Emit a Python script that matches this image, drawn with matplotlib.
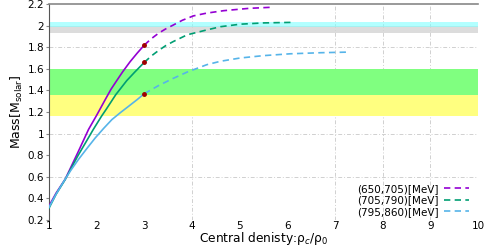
import numpy as np
import matplotlib.pyplot as plt
from matplotlib.ticker import FuncFormatter

# curves: solid part up to rho_c = 3, dashed beyond
x_a = [1.0, 1.15, 1.34, 1.6, 1.83, 2.0, 2.18, 2.3, 2.42, 2.55, 2.7, 2.85, 3.0]
y_a = [0.33, 0.45, 0.578, 0.82, 1.039, 1.17, 1.315, 1.41, 1.49, 1.575, 1.665, 1.745, 1.82]
xd_a = [3.0, 3.15, 3.3, 3.45, 3.61, 3.8, 4.03, 4.3, 4.66, 5.2, 5.68]
yd_a = [1.82, 1.88, 1.93, 1.97, 2.006, 2.05, 2.09, 2.115, 2.138, 2.16, 2.17]

x_b = [1.0, 1.15, 1.34, 1.6, 1.93, 2.1, 2.2, 2.4, 2.63, 2.8, 3.0]
y_b = [0.31, 0.44, 0.575, 0.79, 1.039, 1.16, 1.225, 1.36, 1.49, 1.57, 1.66]
xd_b = [3.0, 3.15, 3.3, 3.45, 3.61, 3.9, 4.31, 4.6, 5.01, 5.5, 6.1]
yd_b = [1.66, 1.72, 1.77, 1.815, 1.853, 1.915, 1.96, 1.99, 2.013, 2.025, 2.03]

x_c = [1.0, 1.15, 1.3, 1.45, 1.62, 1.8, 1.97, 2.15, 2.32, 2.5, 2.67, 2.85, 3.0]
y_c = [0.317, 0.44, 0.55, 0.655, 0.762, 0.865, 0.96, 1.05, 1.13, 1.195, 1.253, 1.315, 1.37]
xd_c = [3.0, 3.3, 3.58, 3.9, 4.31, 4.6, 5.01, 5.5, 6.06, 6.7, 7.32]
yd_c = [1.37, 1.445, 1.506, 1.57, 1.638, 1.67, 1.70, 1.722, 1.739, 1.749, 1.755]

labels = ["(650,705)[MeV]", "(705,790)[MeV]", "(795,860)[MeV]"]
colors = ["#9400d3", "#009e73", "#56b4e9"]

# observational bands
band_gray = (1.93, 2.00)
band_cyan = (1.99, 2.03)
band_green = (1.36, 1.60)
band_yellow = (1.16, 1.36)

fig = plt.figure(figsize=(4.9, 2.46), dpi=100)
ax = fig.add_axes([0.1, 0.1057, 0.8755, 0.878])
ax.set_xlim(1, 10)
ax.set_ylim(0.2, 2.2)

ax.axhspan(*band_yellow, color="#ffff80", lw=0, zorder=1)
ax.axhspan(*band_green, color="#80ff80", lw=0, zorder=1)
ax.axhspan(*band_gray, color="#d4d4d4", alpha=0.8, lw=0, zorder=1)
ax.axhspan(*band_cyan, color="#80ffff", alpha=0.6, lw=0, zorder=1)

# grid
for gx in [4, 7, 8, 9]:
    ax.axvline(gx, color="#d0d0d0", lw=0.7, ls=(0, (4, 2, 1, 2)), zorder=0.5)
for gy in [0.6, 1.0, 1.4, 1.8]:
    ax.axhline(gy, color="#d0d0d0", lw=0.7, ls=(0, (4, 2, 1, 2)), zorder=0.5)

curves = [(x_a, y_a, xd_a, yd_a), (x_b, y_b, xd_b, yd_b), (x_c, y_c, xd_c, yd_c)]
for (xs, ys, xd, yd), c, lab in zip(curves, colors, labels):
    ax.plot(xs, ys, color=c, lw=1.2, zorder=3)
    ax.plot(xd, yd, color=c, lw=1.2, dashes=(3.8, 2.6), zorder=3, label=lab)
    ax.plot([xs[-1]], [ys[-1]], "o", color="#a00000", ms=2.5, zorder=4)

ax.set_xticks(range(1, 11))
ax.set_yticks(np.arange(0.2, 2.21, 0.2))
ax.yaxis.set_major_formatter(FuncFormatter(lambda v, p: "%g" % round(v, 1)))
ax.tick_params(axis="both", labelsize=7.5, length=2, color="#888888", pad=1.5)
ax.tick_params(axis="x", length=0, pad=0.5)

for s in ["right", "bottom"]:
    ax.spines[s].set_visible(False)
ax.spines["left"].set_color("#555555")
ax.spines["top"].set_color("#888888")
ax.spines["top"].set_linewidth(1.2)

ax.set_xlabel("Central denisty:ρ$_c$/ρ$_0$", fontsize=8.8, labelpad=-0.5)
ax.set_ylabel(r"Mass[M$_{\rm solar}$]", fontsize=9, labelpad=2)

leg = ax.legend(loc="lower right", bbox_to_anchor=(1.0, -0.03), fontsize=7.5,
                frameon=False, markerfirst=False, handlelength=2.4,
                handletextpad=0.5, labelspacing=0.15)
for t in leg.get_texts():
    t.set_ha("right")

fig.savefig("out.png", dpi=100)
